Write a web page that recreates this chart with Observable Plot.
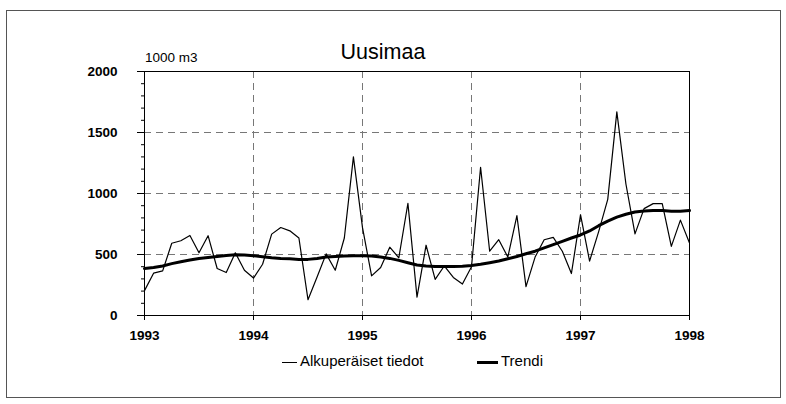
<!DOCTYPE html>
<html><head><meta charset="utf-8">
<script src="https://cdn.jsdelivr.net/npm/d3@7"></script>
<script src="https://cdn.jsdelivr.net/npm/@observablehq/plot@0.6"></script>
<style>
body{margin:0;background:#fff;}
#wrap{position:relative;width:786px;height:404px;overflow:hidden;font-family:"Liberation Sans",Arial,sans-serif;color:#000;}
#chart{position:absolute;left:0;top:0;}
.abs{position:absolute;white-space:nowrap;line-height:1;}
#border{position:absolute;left:6px;top:10px;width:773px;height:386px;border:1px solid #555;}
#title{left:383px;top:42px;transform:translateX(-50%);font-size:21.5px;}
#unit{left:145px;top:51px;font-size:13.5px;}
.leg{top:353px;font-size:15px;}
.lline{position:absolute;background:#000;}
</style></head><body>
<div id="wrap">
  <div id="border"></div>
  <div id="chart"></div>
  <div class="abs" id="title">Uusimaa</div>
  <div class="abs" id="unit">1000 m3</div>
  <div class="lline" style="left:282px;top:362px;width:15px;height:1px;"></div>
  <div class="abs leg" style="left:300px;">Alkuperäiset tiedot</div>
  <div class="lline" style="left:477px;top:361px;width:21px;height:3px;"></div>
  <div class="abs leg" style="left:501px;">Trendi</div>
</div>
<script>
const years = [1993, 1994, 1995, 1996, 1997, 1998];
const yTicks = [0, 500, 1000, 1500, 2000];
const yGrid = [500, 1000, 1500];
const xGrid = [1994, 1995, 1996, 1997];
const minorTicks = d3.range(0, 2001, 100);
const original = [
  204, 347, 366, 592, 613, 656, 514, 654, 385, 352, 514, 371,
  307, 420, 667, 721, 694, 635, 129, 315, 505, 371, 635, 1300,
  720, 325, 393, 560, 473, 920, 151, 576, 296, 406, 312, 258,
  400, 1215, 527, 621, 479, 818, 237, 479, 621, 640, 527, 344,
  826, 446, 688, 952, 1669, 1078, 669, 876, 917, 917, 567, 782,
  594
];
const trend = [
  385, 393, 406, 425, 441, 455, 468, 476, 484, 492, 498, 495,
  490, 481, 473, 468, 465, 460, 460, 468, 479, 484, 487, 490,
  490, 487, 479, 468, 452, 433, 414, 406, 401, 401, 401, 403,
  410, 420, 433, 447, 465, 484, 506, 527, 554, 581, 608, 635,
  660, 693, 736, 774, 806, 830, 849, 857, 860, 860, 855, 855,
  860
];
const rows = original.map((v, i) => ({t: 1993 + i / 12, orig: v, trend: trend[i]}));

const chart = Plot.plot({
  width: 786, height: 404,
  marginLeft: 144, marginRight: 97, marginTop: 71, marginBottom: 89,
  style: {fontFamily: "'Liberation Sans',Arial,sans-serif", fontSize: "13.5px", fontWeight: "bold", background: "transparent", overflow: "visible"},
  x: {domain: [1993, 1998], label: null},
  y: {domain: [0, 2000], label: null},
  marks: [
    Plot.gridY(yGrid, {stroke: "#777", strokeOpacity: 1, strokeWidth: 1, strokeDasharray: "7,5"}),
    Plot.gridX(xGrid, {stroke: "#777", strokeOpacity: 1, strokeWidth: 1, strokeDasharray: "7,5"}),
    Plot.frame({stroke: "#000", strokeWidth: 1}),
    Plot.axisY(minorTicks, {tickSize: 3, tickFormat: () => "", label: null}),
    Plot.axisY(yTicks, {tickSize: 7, tickPadding: 20, tickFormat: d => String(d), label: null}),
    Plot.axisX(years, {tickSize: 5, tickPadding: 10, tickFormat: d => String(d), label: null}),
    Plot.line(rows, {x: "t", y: "orig", stroke: "#000", strokeWidth: 1.2}),
    Plot.line(rows, {x: "t", y: "trend", stroke: "#000", strokeWidth: 3})
  ]
});
document.getElementById("chart").appendChild(chart);
</script>
</body></html>
